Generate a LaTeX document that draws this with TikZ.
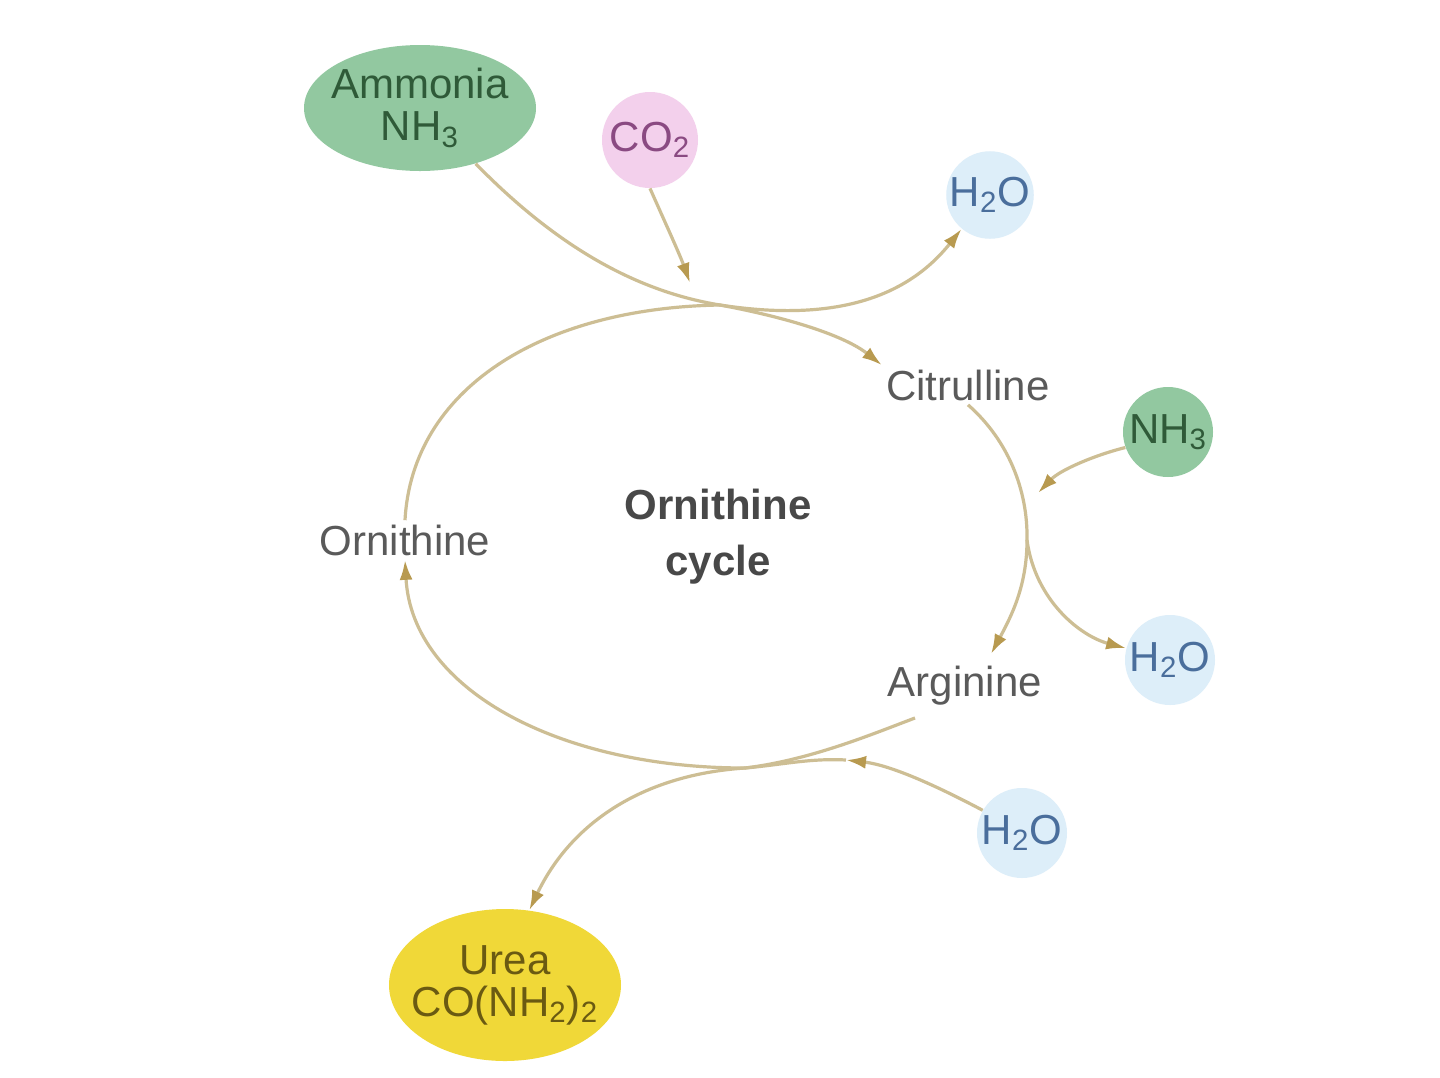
\documentclass[tikz,border=0pt]{standalone}
\usepackage{fontspec}
\setmainfont{Liberation Sans}
\usetikzlibrary{arrows.meta,shapes.geometric}
\definecolor{linec}{HTML}{CDBE94}
\definecolor{arrowc}{HTML}{B89A50}
\definecolor{ammfill}{HTML}{92C8A0}
\definecolor{ammtext}{HTML}{2F5A38}
\definecolor{cofill}{HTML}{F3D0EC}
\definecolor{cotext}{HTML}{8A4A82}
\definecolor{wfill}{HTML}{DDEEF9}
\definecolor{wtext}{HTML}{4A6E9C}
\definecolor{ureafill}{HTML}{F0D838}
\definecolor{ureatext}{HTML}{6A5A12}
\definecolor{labtext}{HTML}{5A5A5A}
\begin{document}
\begin{tikzpicture}[x=0.5pt,y=-0.5pt,
  lbl/.style={font=\fontsize{21}{24}\selectfont, align=center, inner sep=2pt},
  blob/.style={lbl, shape=circle, inner sep=0pt, minimum size=45pt},
  bigblob/.style={lbl, shape=ellipse, inner sep=-10pt, minimum width=116pt, minimum height=63pt},
  flow/.style={draw=linec, line width=1.6pt},
  tip/.style={-{Latex[length=10pt,width=6.5pt,color=arrowc]}},
]
\useasboundingbox (0,0) rectangle (1440,1077);
\fill[white] (0,0) rectangle (1440,1077);

% molecule blobs
\node[bigblob, fill=ammfill, text=ammtext] (amm) at (420,108) {Ammonia\\[-3pt]NH\textsubscript{3}};
\node[blob, fill=cofill, text=cotext, minimum size=48pt] (co2) at (650,140) {CO\textsubscript{2}};
\node[blob, fill=wfill, text=wtext, minimum size=42pt] (h2oA) at (990,195) {H\textsubscript{2}O};
\node[blob, fill=ammfill, text=ammtext] (nh3) at (1168,432) {NH\textsubscript{3}};
\node[blob, fill=wfill, text=wtext] (h2oB) at (1170,660) {H\textsubscript{2}O};
\node[blob, fill=wfill, text=wtext] (h2oC) at (1022,833) {H\textsubscript{2}O};
\node[bigblob, fill=ureafill, text=ureatext, minimum height=76pt] (urea) at (505,985) {Urea\\[-3pt]CO(NH\textsubscript{2})\textsubscript{2}};

% labels
\node[lbl, text=labtext] (cit) at (968,385) {Citrulline};
\node[lbl, text=labtext] (orn) at (405,540) {Ornithine};
\node[lbl, text=labtext] (arg) at (965,686) {Arginine};
\node[lbl, text=labtext!80!black, font=\fontsize{21}{28}\selectfont\bfseries] (cyc) at (718,537) {Ornithine\\cycle};

% junctions
\coordinate (J1) at (720,305);
\coordinate (coend) at (690,283);
\coordinate (J2) at (1027,540);
\coordinate (nhend) at (1038,493);
\coordinate (J3) at (745,768);
\coordinate (hm) at (846,760);

% top junction
\draw[flow] (orn.north) .. controls (412,390) and (540,308) .. (J1);
\draw[flow] (amm.-45) .. controls (560,250) and (640,292) .. (J1);
\draw[flow, tip] (J1) .. controls (790,318) and (845,336) .. (cit.north west);
\draw[flow, tip] (co2.south) .. controls (664,220) and (680,255) .. (coend);
\draw[flow, tip] (J1) .. controls (830,322) and (905,300) .. (h2oA.230);

% right junction
\draw[flow] (cit.south) .. controls (1008,440) and (1028,490) .. (J2);
\draw[flow, tip] (J2) .. controls (1027,585) and (1012,615) .. ([xshift=13pt,yshift=4pt]arg.north);
\draw[flow, tip] (nh3.200) .. controls (1095,455) and (1060,470) .. (nhend);
\draw[flow, tip] (J2) .. controls (1035,600) and (1080,636) .. (h2oB.165);

% bottom junction
\draw[flow] ([xshift=-25pt,yshift=-4pt]arg.south) .. controls (870,735) and (810,760) .. (J3);
\draw[flow, tip] (h2oC.150) .. controls (935,785) and (890,765) .. (hm);
\draw[flow] (hm) .. controls (810,758) and (780,765) .. (J3);
\draw[flow, tip] (J3) .. controls (640,775) and (570,825) .. (urea.72);
\draw[flow, tip] (J3) .. controls (560,768) and (412,690) .. (orn.south);
\end{tikzpicture}
\end{document}
